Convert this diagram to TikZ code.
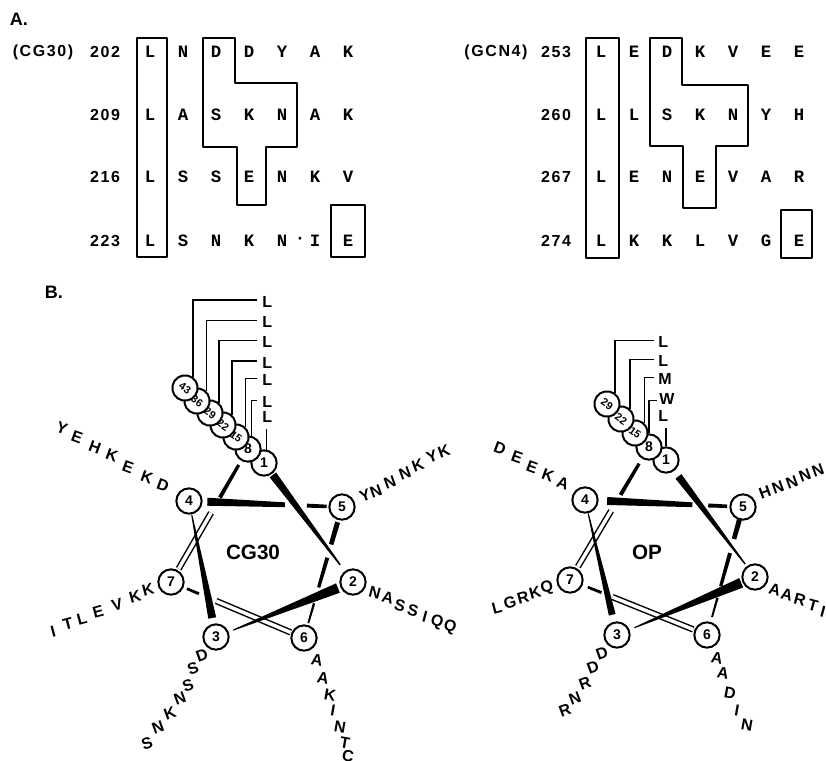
\documentclass[tikz,border=0pt]{standalone}
\usepackage{fontspec}
\setmainfont{Liberation Sans}
\newfontfamily\monofam{Liberation Mono}
\newfontfamily\spfam{Liberation Sans}[LetterSpace=10]
\usetikzlibrary{calc}
% wedge between two nodes: #1 from, #2 to, #3/#4 positions, #5/#6 half widths
\newcommand{\seg}[6]{%
  \path (#1.center) -- (#2.center) coordinate[pos=#3] (sA) coordinate[pos=#4] (sB);
  \fill ($(sA)!#5!90:(sB)$) -- ($(sB)!#6!-90:(sA)$) -- ($(sB)!#6!90:(sA)$) -- ($(sA)!#5!-90:(sB)$) -- cycle;}
\newcommand{\dseg}[4]{%
  \path (#1.center) -- (#2.center) coordinate[pos=#3] (sA) coordinate[pos=#4] (sB);
  \draw[dbl] (sA) -- (sB);}
\begin{document}
\begin{tikzpicture}[x=0.75pt,y=-0.75pt,
  aa/.style={font=\monofam\bfseries\fontsize{13}{13}\selectfont, inner sep=0pt},
  numlab/.style={font=\spfam\bfseries\fontsize{12}{12}\selectfont, inner sep=0pt},
  panel/.style={font=\bfseries\fontsize{13.5}{14}\selectfont, inner sep=0pt},
  res/.style={font=\bfseries\fontsize{12}{12}\selectfont, inner sep=0pt},
  abox/.style={line width=1.6pt, line join=round},
  hc/.style={circle, draw, line width=1.5pt, fill=white, minimum size=19pt, inner sep=0pt, font=\bfseries\fontsize{10.5}{10.5}\selectfont},
  hcs/.style={hc, rotate=-35, font=\bfseries\fontsize{8}{8}\selectfont},
  leader/.style={line width=1.2pt},
  dbl/.style={double, double distance=2.6pt, line width=1.1pt},
  helixname/.style={font=\bfseries\fontsize{15.5}{16}\selectfont, inner sep=0pt},
  ltag/.style={font=\bfseries\fontsize{12}{12}\selectfont, inner sep=0pt, anchor=west}]
\useasboundingbox (0,0) rectangle (826,761);

% ---------------- Part A ----------------
\node[panel] (A) at (19,19) {A.};
\node[numlab] (cg) at (43,52) {(CG30)};
\node[numlab] (gc) at (496,52) {(GCN4)};
\node[numlab] (n202) at (105,52) {202};
\node[numlab] (n209) at (105,115) {209};
\node[numlab] (n216) at (105,177) {216};
\node[numlab] (n223) at (105,241) {223};
\node[numlab] (n253) at (556,52) {253};
\node[numlab] (n260) at (556,115) {260};
\node[numlab] (n267) at (556,177) {267};
\node[numlab] (n274) at (556,241) {274};

\foreach \r [count=\i] in {L,N,D,D,Y,A,K} \node[aa] (a202-\i) at ({150+33*(\i-1)},52) {\r};
\foreach \r [count=\i] in {L,A,S,K,N,A,K} \node[aa] (a209-\i) at ({150+33*(\i-1)},115) {\r};
\foreach \r [count=\i] in {L,S,S,E,N,K,V} \node[aa] (a216-\i) at ({150+33*(\i-1)},177) {\r};
\foreach \r [count=\i] in {L,S,N,K,N,I,E} \node[aa] (a223-\i) at ({150+33*(\i-1)},241) {\r};
\node[aa] (dot223) at (300,240) {·};
\foreach \r [count=\i] in {L,E,D,K,V,E,E} \node[aa] (a253-\i) at ({601+33*(\i-1)},52) {\r};
\foreach \r [count=\i] in {L,L,S,K,N,Y,H} \node[aa] (a260-\i) at ({601+33*(\i-1)},115) {\r};
\foreach \r [count=\i] in {L,E,N,E,V,A,R} \node[aa] (a267-\i) at ({601+33*(\i-1)},177) {\r};
\foreach \r [count=\i] in {L,K,K,L,V,G,E} \node[aa] (a274-\i) at ({601+33*(\i-1)},241) {\r};

\draw[abox] (137,38) rectangle (167,257);
\draw[abox] (203,38) -- (235,38) -- (235,83) -- (297,83) -- (297,147) -- (266,147) -- (266,205) -- (237,205) -- (237,147) -- (203,147) -- cycle;
\draw[abox] (331,205) rectangle (365,257);
\draw[abox] (586,38) rectangle (619,258);
\draw[abox] (650,38) -- (682,38) -- (682,85) -- (748,85) -- (748,146) -- (716,146) -- (716,208) -- (683,208) -- (683,146) -- (650,146) -- cycle;
\draw[abox] (781,210) rectangle (812,258);

% ---------------- Part B ----------------
\node[panel] (B) at (54,292) {B.};

% CG30 wheel
\node[hc] (c1) at (264,463) {1};
\node[hc] (c2) at (353,582) {2};
\node[hc] (c3) at (216,637) {3};
\node[hc] (c4) at (189,501) {4};
\node[hc] (c5) at (342,507) {5};
\node[hc] (c6) at (304,638) {6};
\node[hc] (c7) at (171,582) {7};
\node[hc] (c8) at (248,449) {8};
\node[hcs] (c15) at (236,437) {15};
\node[hcs] (c22) at (223,425) {22};
\node[hcs] (c29) at (210,413) {29};
\node[hcs] (c36) at (197,401) {36};
\node[hcs] (c43) at (185,388) {43};
\node[helixname] (cgname) at (253,552) {CG30};

\dseg{c7}{c8}{0.1}{0.52}
\seg{c7}{c8}{0.635}{0.88}{1.5pt}{1.2pt}
\dseg{c6}{c7}{0.1}{0.66}
\seg{c6}{c7}{0.79}{0.88}{1.1pt}{1pt}
\seg{c5}{c6}{0.116}{0.286}{1.9pt}{1.7pt}
\seg{c5}{c6}{0.387}{0.614}{1.5pt}{1.2pt}
\seg{c5}{c6}{0.735}{0.886}{0.9pt}{0.7pt}
\seg{c4}{c5}{0.12}{0.627}{3pt}{1.8pt}
\seg{c4}{c5}{0.77}{0.9}{1.5pt}{1.3pt}
\seg{c3}{c4}{0.14}{0.9}{3pt}{0.4pt}
\seg{c2}{c3}{0.11}{0.875}{3.8pt}{0.4pt}
\seg{c1}{c2}{0.1}{0.855}{3pt}{0.6pt}

\node[ltag] (l43) at (262,302) {L};
\node[ltag] (l36) at (262,322) {L};
\node[ltag] (l29) at (262,342) {L};
\node[ltag] (l22) at (262,363) {L};
\node[ltag] (l15) at (262,380) {L};
\node[ltag] (l8) at (262,402) {L};
\node[ltag] (l1) at (262,417) {L};
\draw[leader] (c43.90) |- ([xshift=-3.75pt,yshift=1.5pt]l43.west);
\draw[leader] (c36.80) |- ([xshift=-3.75pt,yshift=1pt]l36.west);
\draw[leader] (c29.85) |- ([xshift=-3.75pt,yshift=1pt]l29.west);
\draw[leader] (c22.85) |- ([xshift=-3.75pt,yshift=1.5pt]l22.west);
\draw[leader] (c15.80) |- ([xshift=-3.75pt,yshift=1pt]l15.west);
\draw[leader] (c8.75) |- ([xshift=-3.75pt,yshift=1pt]l8.west);
\coordinate (t1) at ([yshift=-4.5pt]l1.south);
\draw[leader] (c1.80) -- (c1.80 |- t1);

\foreach \t/\x/\y [count=\i] in {Y/62/428,E/77/437,H/95/447,K/112/455,E/128/467,K/147/477,D/163/485}
  \node[res,rotate=-20] (g4-\i) at (\x,\y) {\t};
\foreach \t/\x/\y [count=\i] in {Y/365/495,N/376/491,N/390/482,N/405/473,K/418/465,Y/432/456,K/444/451}
  \node[res,rotate=20] (g5-\i) at (\x,\y) {\t};
\foreach \t/\x/\y [count=\i] in {I/53/632,T/68/624,L/82/619,E/98/612,V/117/605,K/135/597,K/148/590}
  \node[res,rotate=15] (g7-\i) at (\x,\y) {\t};
\foreach \t/\x/\y [count=\i] in {N/375/593,A/388/598,S/400/606,S/413/611,I/425/617,Q/437/622,Q/450/627}
  \node[res,rotate=-15] (g2-\i) at (\x,\y) {\t};
\foreach \t/\x/\y [count=\i] in {S/147/743,N/158/727,K/170/713,N/180/698,S/188/685,S/193/668,D/202/655}
  \node[res,rotate=20] (g3-\i) at (\x,\y) {\t};
\foreach \t/\x/\y [count=\i] in {A/317/660,A/323/678,K/330/695,I/333/710,N/340/727,T/345/743,C/348/756}
  \node[res,rotate=-10] (g6-\i) at (\x,\y) {\t};

% OP wheel
\node[hc] (o1) at (666,460) {1};
\node[hc] (o2) at (755,577) {2};
\node[hc] (o3) at (617,635) {3};
\node[hc] (o4) at (585,500) {4};
\node[hc] (o5) at (743,507) {5};
\node[hc] (o6) at (707,635) {6};
\node[hc] (o7) at (570,580) {7};
\node[hc] (o8) at (649,447) {8};
\node[hcs] (o15) at (635,433) {15};
\node[hcs] (o22) at (621,419) {22};
\node[hcs] (o29) at (607,404) {29};
\node[helixname] (opname) at (647,552) {OP};

\dseg{o7}{o8}{0.1}{0.52}
\seg{o7}{o8}{0.64}{0.875}{1.5pt}{1.2pt}
\dseg{o6}{o7}{0.1}{0.69}
\seg{o6}{o7}{0.77}{0.87}{1.1pt}{1pt}
\seg{o5}{o6}{0.1}{0.25}{1.9pt}{1.7pt}
\seg{o5}{o6}{0.36}{0.62}{1.5pt}{1.2pt}
\seg{o5}{o6}{0.71}{0.86}{0.9pt}{0.7pt}
\seg{o4}{o5}{0.14}{0.68}{3pt}{1.8pt}
\seg{o4}{o5}{0.78}{0.9}{1.5pt}{1.3pt}
\seg{o3}{o4}{0.15}{0.9}{2.6pt}{0.4pt}
\seg{o2}{o3}{0.1}{0.874}{3.8pt}{0.4pt}
\seg{o1}{o2}{0.14}{0.89}{2.8pt}{0.5pt}

\node[ltag] (m29) at (658,342) {L};
\node[ltag] (m22) at (658,361) {L};
\node[ltag] (m15) at (658,379) {M};
\node[ltag] (m8) at (659,399) {W};
\node[ltag] (m1) at (658,416) {L};
\draw[leader] (o29.90) |- ([xshift=-3pt,yshift=1pt]m29.west);
\draw[leader] (o22.85) |- ([xshift=-3pt,yshift=1pt]m22.west);
\draw[leader] (o15.80) |- ([xshift=-3pt,yshift=1pt]m15.west);
\draw[leader] (o8.90) |- ([xshift=-1.5pt,yshift=-1pt]m8.west);
\coordinate (u1) at ([yshift=-4.5pt]m1.south);
\draw[leader] (o1.90) -- (o1.90 |- u1);

\foreach \t/\x/\y [count=\i] in {D/500/448,E/517/457,E/532/467,K/548/475,A/563/483}
  \node[res,rotate=-20] (p4-\i) at (\x,\y) {\t};
\foreach \t/\x/\y [count=\i] in {H/765/492,N/778/487,N/792/482,N/805/475,N/818/470}
  \node[res,rotate=20] (p5-\i) at (\x,\y) {\t};
\foreach \t/\x/\y [count=\i] in {L/497/608,G/510/603,R/523/598,K/535/593,Q/547/588}
  \node[res,rotate=15] (p7-\i) at (\x,\y) {\t};
\foreach \t/\x/\y [count=\i] in {A/775/590,A/787/595,R/800/600,T/813/605,I/823/612}
  \node[res,rotate=-15] (p2-\i) at (\x,\y) {\t};
\foreach \t/\x/\y [count=\i] in {R/565/710,N/575/698,R/585/683,D/593/667,D/602/653}
  \node[res,rotate=20] (p3-\i) at (\x,\y) {\t};
\foreach \t/\x/\y [count=\i] in {A/717/658,A/723/673,D/730/693,I/737/710,N/747/725}
  \node[res,rotate=-10] (p6-\i) at (\x,\y) {\t};
\end{tikzpicture}
\end{document}
